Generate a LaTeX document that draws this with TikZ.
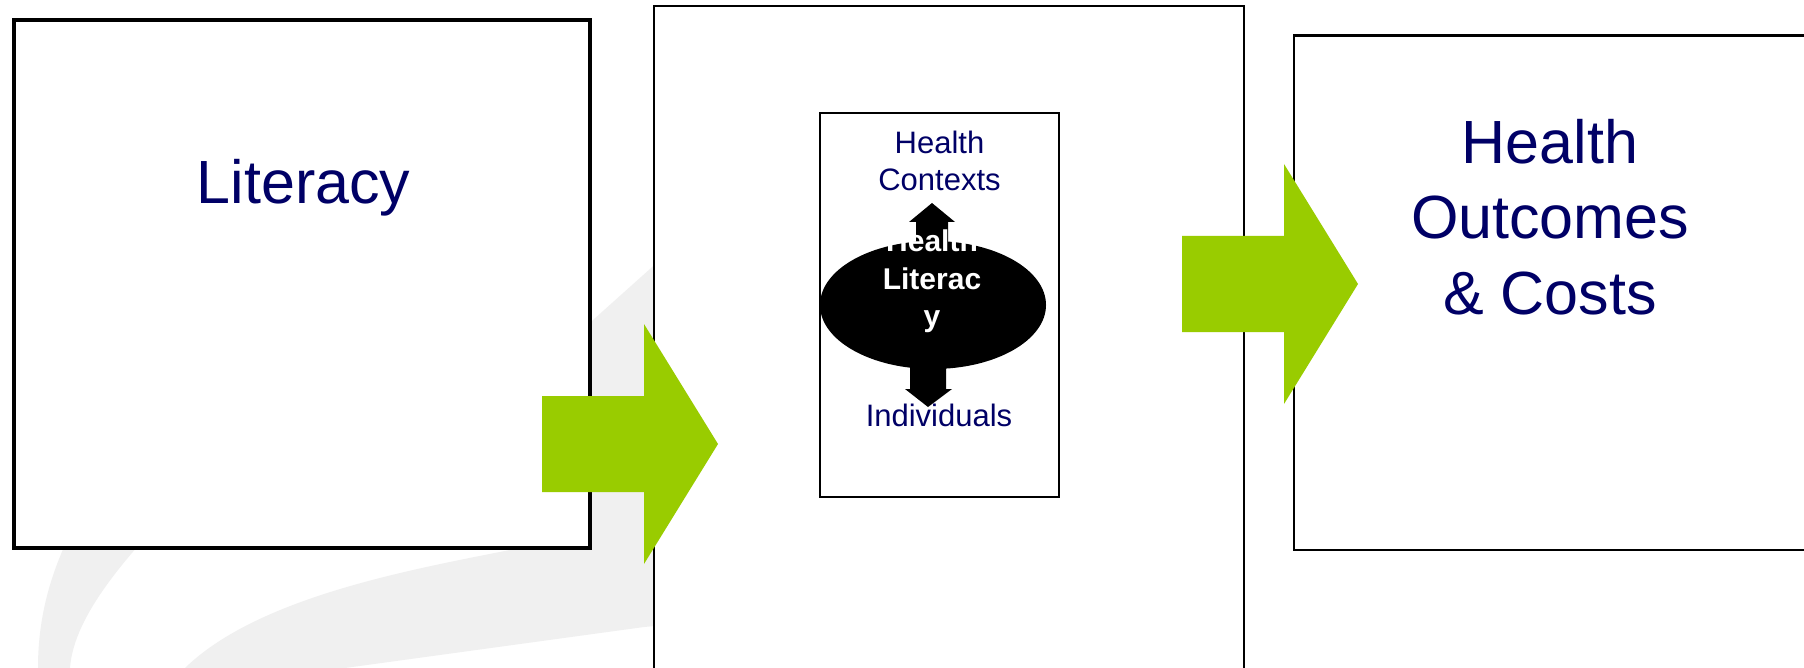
\documentclass[tikz,border=0pt]{standalone}
\usepackage{fontspec}
\setmainfont{Liberation Sans}
\usetikzlibrary{shapes.geometric}
\definecolor{navy}{RGB}{0,0,102}
\definecolor{leaf}{RGB}{153,204,0}
\definecolor{swoosh}{RGB}{240,240,240}
\begin{document}
\begin{tikzpicture}[x=1pt,y=-1pt,
  frame/.style={draw=black, fill=white, line width=2.3pt, inner sep=0pt},
  bigtext/.style={text=navy, inner sep=0pt, align=center, font=\fontsize{61}{75}\selectfont},
  smalltext/.style={text=navy, inner sep=0pt, align=center, font=\fontsize{31}{37.4}\selectfont},
  coretext/.style={text=white, inner sep=0pt, align=center, font=\bfseries\fontsize{30}{37.3}\selectfont},
  blockarrow/.pic={\fill[leaf] (0,-48) -- (102,-48) -- (102,-120) -- (176,0) -- (102,120) -- (102,48) -- (0,48) -- cycle;}
]
\useasboundingbox (0,0) rectangle (1804,668);
\clip (0,0) rectangle (1804,668);
\fill[white] (0,0) rectangle (1804,668);

% faint watermark swoosh in the background
\fill[swoosh] (38,668) .. controls (38,600) and (60,520) .. (150,420) -- (260,420)
  .. controls (160,520) and (75,600) .. (70,668) -- cycle;
\fill[swoosh] (185,668) .. controls (260,595) and (420,568) .. (520,548) -- (520,420)
  -- (593,320) -- (660,260) -- (720,220) -- (720,620) -- (644,627) -- (345,668) -- cycle;

% the three stages
\node[frame, line width=3.5pt, minimum width=576pt, minimum height=528pt] (litbox) at (302,284) {};
\node[frame, minimum width=590pt, minimum height=700pt] (hlbox) at (949,356) {};
\node[frame, minimum width=536pt, minimum height=514.5pt] (outbox) at (1562,292.75) {};
\node[frame, line width=2pt, minimum width=239pt, minimum height=384pt] (inner) at (939.5,305) {};

% health literacy core with its two block arrows
\coordinate (uptip) at (932,203);
\coordinate (downtip) at (928,407);
\fill[black] (916,305) -- (916,222) -- (909,222) -- (uptip) -- (955,222) -- (948,222) -- (948,305) -- cycle;
\fill[black] (910,305) -- (910,389) -- (905,389) -- (downtip) -- (952,389) -- (946,389) -- (946,305) -- cycle;
\node[ellipse, fill=black, inner sep=0pt, minimum width=226pt, minimum height=128pt] (core) at (933,305) {};
% base anchor of a multi-line node sits on its last line
\node[coretext, anchor=base] (coretxt) at (932,326.5) {Health\\Literac\\y};

% labels
\node[bigtext, anchor=base] (littxt) at (303.5,204) {Literacy};
\node[bigtext, anchor=base] (outtxt) at (1550,314) {Health\\Outcomes\\\& Costs};
\node[smalltext, anchor=base] (ctxtxt) at (939.5,190.7) {Health\\Contexts};
\node[smalltext, anchor=base] (indtxt) at (939,426.7) {Individuals};

% green flow arrows between the stages
\pic at (542,444) {blockarrow};
\pic at (1182,284) {blockarrow};
\end{tikzpicture}
\end{document}
